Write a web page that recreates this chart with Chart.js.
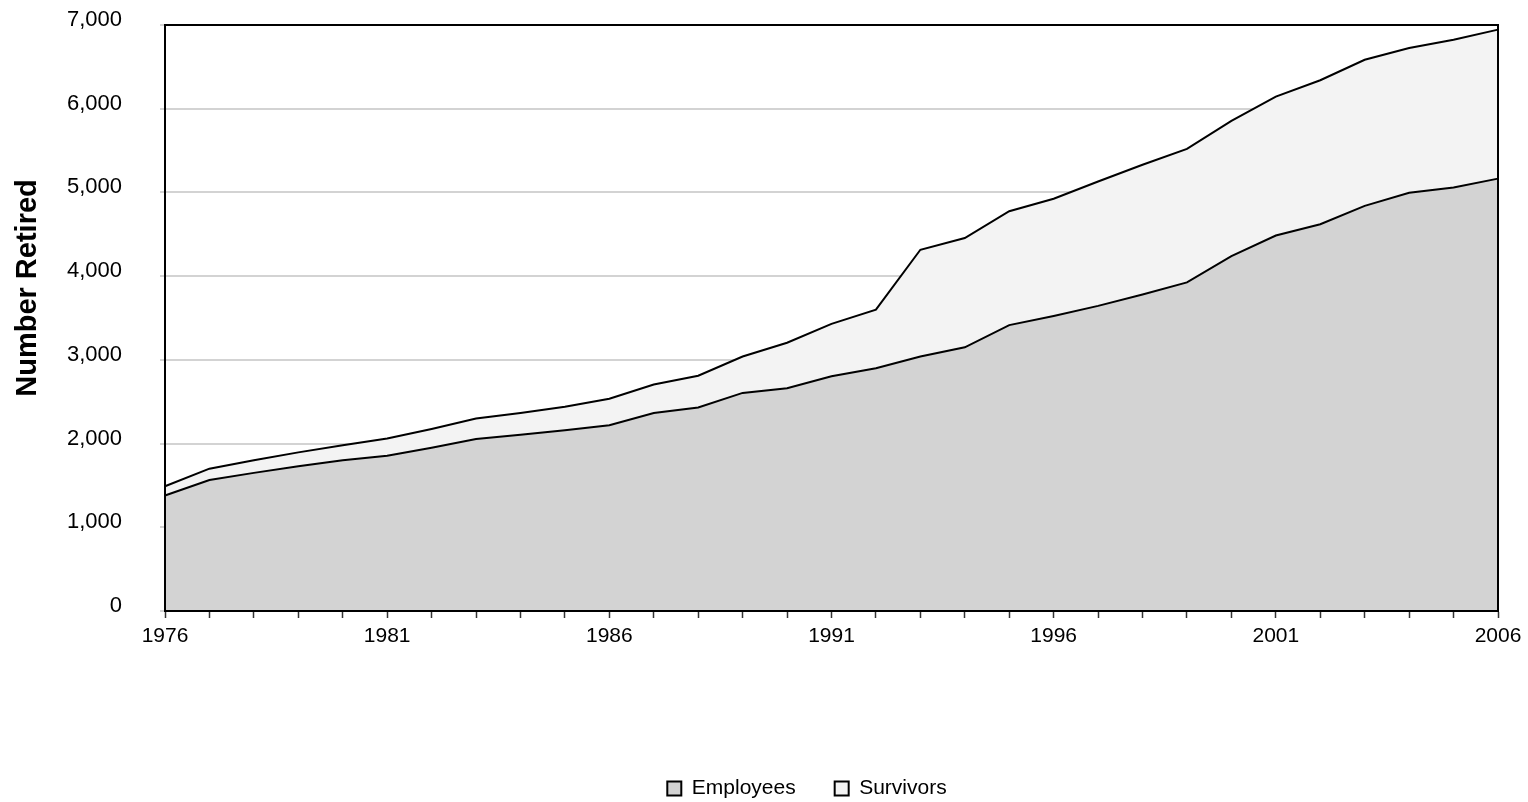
<!DOCTYPE html>
<html>
<head>
<meta charset="utf-8">
<title>Number Retired</title>
<script src="https://cdn.jsdelivr.net/npm/chart.js@4.4.1/dist/chart.umd.min.js"></script>
<style>
    html, body { margin: 0; padding: 0; background: #fff; }
    #wrap { width: 1528px; height: 802px; position: relative; }
</style>
</head>
<body>
<div id="wrap"><canvas id="retiredChart"></canvas></div>
<script>

const years = [
    "1976", "1977", "1978", "1979", "1980", "1981", "1982", "1983", "1984", "1985",
    "1986", "1987", "1988", "1989", "1990", "1991", "1992", "1993", "1994", "1995",
    "1996", "1997", "1998", "1999", "2000", "2001", "2002", "2003", "2004", "2005",
    "2006"
];

const employees = [
    1380, 1565, 1650, 1730, 1800, 1855, 1950, 2055, 2105, 2160,
    2220, 2365, 2430, 2605, 2660, 2805, 2900, 3040, 3150, 3415,
    3525, 3645, 3780, 3925, 4240, 4485, 4620, 4840, 4995, 5060,
    5165
];

const survivors = [
    110, 135, 150, 165, 180, 205, 225, 245, 260, 280,
    315, 340, 380, 435, 545, 625, 700, 1275, 1305, 1360,
    1400, 1485, 1550, 1595, 1615, 1660, 1720, 1745, 1730, 1765,
    1780
];

const yTickValues = [0, 1000, 2000, 3000, 4000, 5000, 6000, 7000];

const FONT = "'Liberation Sans', Arial, Helvetica, sans-serif";

// frame round the whole plot area plus the rotated axis caption
const framePlugin = {
    id: "frame",
    afterLayout(chart) {
        // legend sits a little right of the canvas centre
        const legend = chart.legend;
        legend.left = 116;
        legend.width = legend.right - legend.left;
    },
    afterDraw(chart) {
        const { ctx, chartArea } = chart;
        ctx.save();
        ctx.strokeStyle = "#000";
        ctx.lineWidth = 2;
        ctx.strokeRect(
            chartArea.left,
            chartArea.top,
            chartArea.right - chartArea.left,
            chartArea.bottom - chartArea.top
        );
        ctx.translate(28, 288);
        ctx.rotate(-Math.PI / 2);
        ctx.fillStyle = "#000";
        ctx.font = "bold 29px " + FONT;
        ctx.textAlign = "center";
        ctx.textBaseline = "middle";
        ctx.fillText("Number Retired", 0, 0);
        ctx.restore();
    }
};

new Chart(document.getElementById("retiredChart"), {

    type: "line",

    data: {
        labels: years,
        datasets: [
            {
                label: "Employees",
                data: employees,
                backgroundColor: "#d3d3d3",
                borderColor: "#000",
                borderWidth: 2,
                fill: "origin"
            },
            {
                label: "Survivors",
                data: survivors,
                backgroundColor: "#f3f3f3",
                borderColor: "#000",
                borderWidth: 2,
                fill: "-1"
            }
        ]
    },

    options: {
        responsive: true,
        maintainAspectRatio: false,
        animation: false,
        events: [],
        layout: {
            padding: { top: 25, right: 30, left: 0, bottom: -7 }
        },
        elements: {
            point: { radius: 0 },
            line: { tension: 0 }
        },
        plugins: {
            tooltip: { enabled: false },
            legend: {
                position: "bottom",
                labels: {
                    color: "#000",
                    font: { family: FONT, size: 21 },
                    boxWidth: 14,
                    boxHeight: 14,
                    padding: 39
                }
            }
        },
        scales: {
            x: {
                offset: false,
                border: { display: true, color: "#000", width: 2 },
                grid: {
                    drawOnChartArea: false,
                    drawTicks: true,
                    tickLength: 7,
                    tickColor: "#333",
                    tickWidth: 1.5
                },
                ticks: {
                    autoSkip: false,
                    maxRotation: 0,
                    padding: 6,
                    color: "#000",
                    font: { family: FONT, size: 21 },
                    callback: (value, index) =>
                        index % 5 === 0 ? years[index] : ""
                },
                afterFit(scale) {
                    scale.height = 128;
                }
            },
            y: {
                stacked: true,
                min: 0,
                max: 7000,
                border: { display: true, color: "#000", width: 2 },
                grid: {
                    color: "#d3d3d3",
                    lineWidth: 2,
                    drawTicks: true,
                    tickLength: 5,
                    tickColor: "#d3d3d3"
                },
                afterBuildTicks(scale) {
                    scale.ticks = yTickValues.map(v => ({ value: v }));
                },
                ticks: {
                    padding: 38,
                    labelOffset: -5,
                    color: "#000",
                    font: { family: FONT, size: 22 },
                    callback: value => value.toLocaleString("en-US")
                },
                afterFit(scale) {
                    scale.width = 165;
                    scale.paddingTop = 0;
                    scale.paddingBottom = 0;
                }
            }
        }
    },

    plugins: [framePlugin]

});

</script>
</body>
</html>
